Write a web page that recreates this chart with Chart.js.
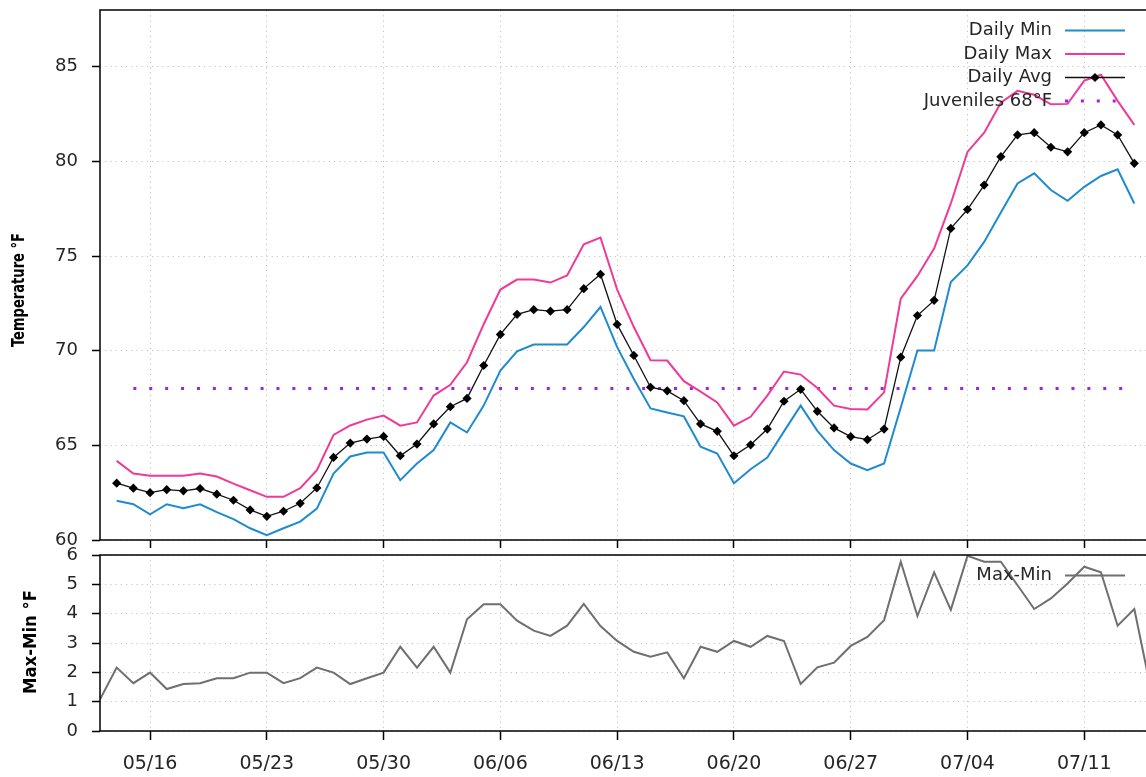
<!DOCTYPE html>
<html>
<head>
<meta charset="utf-8">
<title>Daily water temperature</title>
<script src="https://cdn.jsdelivr.net/npm/chart.js@4.4.1/dist/chart.umd.min.js"></script>
<style>
  html, body { margin: 0; padding: 0; background: #fff; overflow: hidden; }
  #wrap { position: relative; width: 1146px; height: 777px; overflow: hidden; }
  #wrap canvas { position: absolute; left: 0; top: 0; }
</style>
</head>
<body>
<div id="wrap">
  <canvas id="tempChart" width="1160" height="777"></canvas>
  <canvas id="rangeChart" width="1160" height="777"></canvas>
</div>
<script>
// One entry per day
const dates = [
  '05/13','05/14','05/15','05/16','05/17','05/18','05/19','05/20','05/21','05/22',
  '05/23','05/24','05/25','05/26','05/27','05/28','05/29','05/30','05/31',
  '06/01','06/02','06/03','06/04','06/05','06/06','06/07','06/08','06/09','06/10',
  '06/11','06/12','06/13','06/14','06/15','06/16','06/17','06/18','06/19','06/20',
  '06/21','06/22','06/23','06/24','06/25','06/26','06/27','06/28','06/29','06/30',
  '07/01','07/02','07/03','07/04','07/05','07/06','07/07','07/08','07/09','07/10',
  '07/11','07/12','07/13','07/14','07/15'
];

// Labelled days on the time axis
const tickDates = ['05/16','05/23','05/30','06/06','06/13','06/20','06/27','07/04','07/11'];

// Temperatures, °F
const dailyMin = [
  null, 62.07, 61.89, 61.36, 61.89, 61.68, 61.89, 61.47, 61.10, 60.62,
  60.25, 60.62, 60.97, 61.66, 63.51, 64.41, 64.62, 64.62, 63.16,
  64.04, 64.75, 66.21, 65.68, 67.10, 68.95, 69.97, 70.33, 70.33, 70.33,
  71.25, 72.31, 70.19, 68.51, 66.95, 66.74, 66.53, 64.93, 64.57, 63.00,
  63.74, 64.36, 65.74, 67.10, 65.77, 64.75, 64.04, 63.69, 64.04, 67.00,
  70.01, 70.01, 73.63, 74.51, 75.75, 77.30, 78.84, 79.37, 78.49, 77.92,
  78.66, 79.23, 79.58, 77.78, null
];
const dailyMax = [
  null, 64.18, 63.51, 63.39, 63.39, 63.39, 63.51, 63.35, 62.98, 62.63,
  62.28, 62.28, 62.74, 63.69, 65.55, 66.05, 66.36, 66.57, 66.04,
  66.21, 67.63, 68.20, 69.39, 71.40, 73.23, 73.76, 73.76, 73.60, 73.98,
  75.62, 75.98, 73.23, 71.25, 69.50, 69.48, 68.39, 67.84, 67.27, 66.04,
  66.51, 67.63, 68.90, 68.74, 68.03, 67.10, 66.92, 66.90, 67.80, 72.75,
  73.95, 75.40, 77.78, 80.50, 81.52, 83.10, 83.73, 83.52, 83.02, 83.04,
  84.27, 84.58, 83.20, 81.93, null
];
const dailyAvg = [
  null, 63.00, 62.74, 62.50, 62.66, 62.60, 62.72, 62.42, 62.10, 61.59,
  61.25, 61.52, 61.94, 62.75, 64.36, 65.12, 65.33, 65.47, 64.45,
  65.07, 66.13, 67.04, 67.48, 69.22, 70.86, 71.92, 72.17, 72.09, 72.17,
  73.28, 74.04, 71.39, 69.75, 68.07, 67.88, 67.36, 66.13, 65.74, 64.45,
  65.03, 65.86, 67.33, 67.96, 66.80, 65.92, 65.46, 65.30, 65.86, 69.66,
  71.86, 72.66, 76.46, 77.46, 78.75, 80.25, 81.40, 81.52, 80.75, 80.51,
  81.52, 81.93, 81.40, 79.90, null
];

// Daily spread (max minus min), °F
const dailyRange = [
  1.08, 2.16, 1.63, 1.99, 1.43, 1.60, 1.63, 1.80, 1.80, 1.99,
  1.99, 1.63, 1.80, 2.16, 1.99, 1.60, 1.80, 1.99, 2.87,
  2.16, 2.87, 1.99, 3.81, 4.32, 4.32, 3.76, 3.42, 3.24, 3.59,
  4.33, 3.58, 3.07, 2.70, 2.53, 2.68, 1.80, 2.87, 2.70, 3.07,
  2.87, 3.24, 3.07, 1.60, 2.17, 2.33, 2.90, 3.21, 3.78, 5.77,
  3.92, 5.41, 4.13, 5.97, 5.77, 5.77, 4.97, 4.16, 4.52, 5.03,
  5.60, 5.41, 3.59, 4.16, 1.40
];

// Juvenile threshold and the days it is drawn over
const juvenileLimit = 68;
const juvenileSpan = ['05/15', '07/14'];

const toPoints = arr => arr.map((v, i) => ({ x: i, y: v }));

const TICK_FONT = { family: 'DejaVu Sans', size: 18 };
const X_TICK_FONT = { family: 'DejaVu Sans', size: 19 };
const GRID_COLOR = '#c2c2c2';
const TEXT_COLOR = '#262626';
const TITLE_FONT = 'bold 18px "DejaVu Sans Condensed", "DejaVu Sans", sans-serif';

// Black frame round the plotting area
const framePlugin = {
  id: 'frame',
  afterDatasetsDraw(chart) {
    const { ctx, chartArea: a } = chart;
    ctx.save();
    ctx.strokeStyle = '#000';
    ctx.lineWidth = 1.5;
    ctx.strokeRect(a.left, a.top, a.right - a.left, a.bottom - a.top);
    ctx.restore();
  }
};

// Rotated title beside the value axis, squeezed to a narrow face
const axisTitlePlugin = {
  id: 'axisTitle',
  afterDraw(chart, args, opts) {
    const { ctx, chartArea: a } = chart;
    ctx.save();
    ctx.font = opts.font;
    const w = ctx.measureText(opts.text).width;
    ctx.translate(opts.x, (a.top + a.bottom) / 2 + opts.dy);
    ctx.rotate(-Math.PI / 2);
    ctx.scale(opts.length / w, 1);
    ctx.fillStyle = '#000';
    ctx.textAlign = 'center';
    ctx.textBaseline = 'middle';
    ctx.fillText(opts.text, 0, 0);
    ctx.restore();
  }
};

// Key in the upper right corner: text first, sample line after it
const keyPlugin = {
  id: 'key',
  afterDatasetsDraw(chart, args, opts) {
    const { ctx, chartArea: a } = chart;
    const right = a.right - opts.inset;
    const left = right - opts.sampleWidth;
    ctx.save();
    chart.data.datasets.forEach((ds, i) => {
      const y = a.top + opts.firstRow + i * opts.rowGap;
      ctx.font = opts.font;
      ctx.fillStyle = TEXT_COLOR;
      ctx.textAlign = 'right';
      ctx.textBaseline = 'middle';
      ctx.fillText(ds.label, left - opts.gap, y);

      ctx.save();
      ctx.strokeStyle = ds.borderColor;
      ctx.lineWidth = ds.borderWidth;
      ctx.setLineDash(ds.borderDash || []);
      ctx.lineCap = ds.borderCapStyle || 'butt';
      ctx.beginPath();
      ctx.moveTo(left, y);
      ctx.lineTo(right, y);
      ctx.stroke();
      ctx.restore();

      if (ds.pointRadius > 0) {
        ctx.save();
        ctx.fillStyle = ds.pointBackgroundColor;
        ctx.strokeStyle = ds.pointBorderColor;
        ctx.lineWidth = ds.pointBorderWidth || 0;
        Chart.helpers.drawPoint(ctx, {
          pointStyle: ds.pointStyle,
          radius: ds.pointRadius,
          rotation: 0,
          borderWidth: ds.pointBorderWidth || 0
        }, (left + right) / 2, y);
        ctx.restore();
      }
    });
    ctx.restore();
  }
};

const keyOptions = {
  inset: 26, sampleWidth: 60, gap: 13, firstRow: 20.5, rowGap: 23.5,
  font: '18px "DejaVu Sans"'
};

function timeAxis(showLabels, height, tickLen) {
  return {
    type: 'linear',
    min: 0,
    max: dates.length - 1,
    afterBuildTicks: scale => {
      scale.ticks = tickDates.map(d => ({ value: dates.indexOf(d) }));
    },
    afterFit: scale => {
      scale.height = height;
      scale.paddingLeft = 0;
      scale.paddingRight = 0;
    },
    ticks: {
      display: showLabels,
      autoSkip: false,
      maxRotation: 0,
      padding: 13,
      font: X_TICK_FONT,
      color: TEXT_COLOR,
      callback: v => dates[v]
    },
    grid: {
      color: GRID_COLOR,
      lineWidth: 1,
      drawTicks: true,
      tickLength: tickLen,
      tickColor: '#000',
      tickWidth: 1.5,
      tickBorderDash: []
    },
    border: { display: false, dash: [1.2, 4] }
  };
}

function valueAxis(min, max, step) {
  return {
    type: 'linear',
    min: min,
    max: max,
    afterBuildTicks: scale => {
      scale.ticks = scale.ticks.filter(t => Math.abs(t.value / step - Math.round(t.value / step)) < 1e-9);
    },
    afterFit: scale => {
      scale.width = 100;
      scale.paddingTop = 0;
      scale.paddingBottom = 0;
    },
    ticks: { stepSize: step, padding: 14, font: TICK_FONT, color: TEXT_COLOR },
    grid: {
      color: GRID_COLOR,
      lineWidth: 1,
      drawTicks: true,
      tickLength: 8,
      tickColor: '#000',
      tickWidth: 1.5,
      tickBorderDash: []
    },
    border: { display: false, dash: [1.2, 4] }
  };
}

const baseOptions = {
  responsive: false,
  animation: false,
  devicePixelRatio: 1,
  events: [],
  elements: { line: { tension: 0 } },
};

const juvStart = dates.indexOf(juvenileSpan[0]);
const juvEnd = dates.indexOf(juvenileSpan[1]);
const juvenilePoints = dates.map((d, i) => ({ x: i, y: (i >= juvStart && i <= juvEnd) ? juvenileLimit : null }));

new Chart(document.getElementById('tempChart'), {
  type: 'line',
  data: {
    datasets: [
      {
        label: 'Daily Min',
        data: toPoints(dailyMin),
        borderColor: '#1f8bcf',
        borderWidth: 2,
        pointRadius: 0,
        order: 3
      },
      {
        label: 'Daily Max',
        data: toPoints(dailyMax),
        borderColor: '#ef3a97',
        borderWidth: 2,
        pointRadius: 0,
        order: 2
      },
      {
        label: 'Daily Avg',
        data: toPoints(dailyAvg),
        borderColor: '#111',
        borderWidth: 1.3,
        pointStyle: 'rectRot',
        pointRadius: 4.6,
        pointBackgroundColor: '#000',
        pointBorderColor: '#000',
        pointBorderWidth: 0,
        order: 1
      },
      {
        label: 'Juveniles 68°F',
        data: juvenilePoints,
        borderColor: '#a020f0',
        borderWidth: 3,
        borderDash: [3, 12.9],
        borderCapStyle: 'butt',
        pointRadius: 0,
        spanGaps: false,
        order: 4
      }
    ]
  },
  options: Object.assign({}, baseOptions, {
    layout: { padding: { left: 0, top: 10, right: 9, bottom: 217 } },
    scales: {
      x: timeAxis(false, 20, 8),
      y: valueAxis(60, 88, 5)
    },
    plugins: {
      legend: { display: false },
      tooltip: { enabled: false },
      key: keyOptions,
      axisTitle: { text: 'Temperature °F', x: 19, dy: 15, length: 114, font: TITLE_FONT }
    }
  }),
  plugins: [framePlugin, keyPlugin, axisTitlePlugin]
});

new Chart(document.getElementById('rangeChart'), {
  type: 'line',
  data: {
    datasets: [
      {
        label: 'Max-Min',
        data: toPoints(dailyRange),
        borderColor: '#6f6f6f',
        borderWidth: 2,
        pointRadius: 0
      }
    ]
  },
  options: Object.assign({}, baseOptions, {
    layout: { padding: { left: 0, top: 555, right: 9, bottom: 0 } },
    scales: {
      x: timeAxis(true, 46, 9),
      y: valueAxis(0, 6, 1)
    },
    plugins: {
      legend: { display: false },
      tooltip: { enabled: false },
      key: keyOptions,
      axisTitle: { text: 'Max-Min °F', x: 31, dy: -1, length: 104, font: TITLE_FONT }
    }
  }),
  plugins: [framePlugin, keyPlugin, axisTitlePlugin]
});
</script>
</body>
</html>
